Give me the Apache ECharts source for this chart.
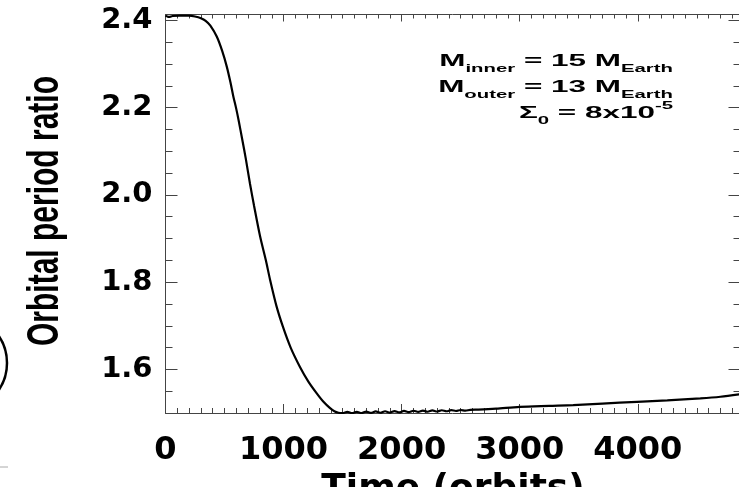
<!DOCTYPE html>
<html lang="en">
<head>
    <meta charset="UTF-8">
    <title>Orbital period ratio</title>
    <script src="https://cdn.jsdelivr.net/npm/echarts@6.0.0/dist/echarts.min.js"></script>
    <style>
        html, body { margin: 0; padding: 0; background: #fff; }
    </style>
</head>
<body>
<div id="main" style="width: 739px;height:487px;"></div>
<script type="text/javascript">
    // values (time in orbits, period ratio)
    var times = [0, 15, 30, 60, 120, 200, 250, 300, 340, 380, 434, 480, 519, 550, 575, 597, 620, 650, 680, 716,
        750, 801, 850, 886, 940, 998, 1060, 1140, 1210, 1281, 1340, 1394, 1430, 1465,
        1500, 1540, 1580, 1620, 1660, 1700, 1740, 1780, 1820, 1860, 1900, 1940, 1980, 2020,
        2060, 2100, 2140, 2180, 2220, 2260, 2300, 2340, 2380, 2420, 2460, 2500, 2540, 2580,
        2650, 2800, 3000, 3250, 3453, 3700, 3993, 4250, 4530, 4700, 4870];
    var ratios = [2.411, 2.409, 2.408, 2.410, 2.411, 2.411, 2.409, 2.405, 2.399, 2.388, 2.363, 2.33, 2.294, 2.258, 2.225, 2.2, 2.17, 2.127, 2.083, 2.025,
        1.975, 1.905, 1.85, 1.805, 1.745, 1.695, 1.65, 1.605, 1.572, 1.545, 1.525, 1.511, 1.504, 1.5005,
        1.4998, 1.5025, 1.4995, 1.5028, 1.4998, 1.5032, 1.5002, 1.5036, 1.5006, 1.504, 1.501, 1.5044, 1.5014, 1.5048,
        1.5019, 1.5052, 1.5024, 1.5056, 1.5029, 1.506, 1.5034, 1.5063, 1.504, 1.5066, 1.5046, 1.5069, 1.5053, 1.5072,
        1.5078, 1.510, 1.514, 1.5163, 1.518, 1.5215, 1.5257, 1.529, 1.5335, 1.5372, 1.543];
    var xTickLabels = [0, 1000, 2000, 3000, 4000];
    var yTickLabels = [1.6, 1.8, 2.0, 2.2, 2.4];

    var xMin = 0, xMax = 4870, yMin = 1.5, yMax = 2.4135;
    var axisColor = '#444';

    var myChart = echarts.init(document.getElementById('main'));

    function xAx(pos, len, interval, extra) {
        return Object.assign({
            type: 'value', gridIndex: 0, position: pos, min: xMin, max: xMax, interval: interval,
            axisLine: {show: false, onZero: false},
            axisTick: {show: true, inside: true, length: len, lineStyle: {color: axisColor}},
            axisLabel: {show: false},
            splitLine: {show: false}
        }, extra || {});
    }
    function yAx(pos, len, interval, extra) {
        return Object.assign({
            type: 'value', gridIndex: 0, position: pos, min: yMin, max: yMax, interval: interval,
            axisLine: {show: false, onZero: false},
            axisTick: {show: true, inside: true, length: len, lineStyle: {color: axisColor}},
            axisLabel: {show: false},
            splitLine: {show: false}
        }, extra || {});
    }
    var lineOn = {show: true, onZero: false, lineStyle: {color: axisColor, width: 1}};

    myChart.setOption({
        backgroundColor: '#fff',
        animation: false,
        grid: {left: 165.5, top: 14.5, width: 575, height: 398.5, outerBoundsMode: 'none'},
        xAxis: [
            xAx('bottom', 9, 1000, {
                axisLine: lineOn,
                axisTick: {show: true, inside: true, length: 9, customValues: xTickLabels, lineStyle: {color: axisColor}},
                axisLabel: {
                    show: true, customValues: xTickLabels, margin: 22,
                    formatter: function (v) { return String(v); },
                    fontFamily: 'DejaVu Sans', fontWeight: 'bold', fontSize: 32, color: '#000'
                },
                name: 'Time (orbits)', nameLocation: 'middle', nameGap: 50,
                nameTextStyle: {fontFamily: 'DejaVu Sans', fontWeight: 'bold', fontSize: 36, color: '#000'}
            }),
            xAx('bottom', 5, 100),
            xAx('top', 7, 1000, {axisLine: lineOn}),
            xAx('top', 4, 100)
        ],
        yAxis: [
            yAx('left', 12, 0.05, {
                axisLine: lineOn,
                axisTick: {show: true, inside: true, length: 12, customValues: yTickLabels, lineStyle: {color: axisColor}},
                axisLabel: {
                    show: true, customValues: yTickLabels, margin: 13,
                    formatter: function (v) { return v.toFixed(1); },
                    fontFamily: 'DejaVu Sans', fontWeight: 'bold', fontSize: 29, color: '#000'
                }
            }),
            yAx('left', 7, 0.05),
            yAx('right', 12, 0.05, {
                axisLine: lineOn,
                axisTick: {show: true, inside: true, length: 12, customValues: yTickLabels, lineStyle: {color: axisColor}}
            }),
            yAx('right', 7, 0.05)
        ],
        series: [{
            type: 'line',
            xAxisIndex: 0,
            yAxisIndex: 0,
            data: times.map(function (t, i) { return [t, ratios[i]]; }),
            showSymbol: false,
            smooth: 0.3,
            lineStyle: {color: '#000', width: 2.2}
        }],
        graphic: [{
            // y axis title, stretched across like the original
            type: 'text',
            x: 46,
            y: 211,
            rotation: Math.PI / 2,
            scaleY: 1.45,
            style: {
                text: 'Orbital period ratio',
                align: 'center',
                verticalAlign: 'middle',
                fontFamily: 'Liberation Sans',
                fontWeight: 'bold',
                fontSize: 30,
                fill: '#000'
            }
        }, {
            type: 'text',
            x: 673,
            y: 48,
            scaleX: 1.85,
            style: {
                text: '{m|M}{s|inner}{m| = 15 M}{s|Earth}\n{m|M}{s|outer}{m| = 13 M}{s|Earth}\n{m|Σ}{s|0}{m| = 8x10}{p|-5}',
                align: 'right',
                verticalAlign: 'top',
                fill: '#000',
                rich: {
                    m: {fontFamily: 'Liberation Sans', fontWeight: 'bold', fontSize: 17, lineHeight: 26, fill: '#000'},
                    s: {fontFamily: 'Liberation Sans', fontWeight: 'bold', fontSize: 11, verticalAlign: 'bottom', fill: '#000'},
                    p: {fontFamily: 'Liberation Sans', fontWeight: 'bold', fontSize: 11, verticalAlign: 'top', fill: '#000'}
                }
            }
        }, {
            type: 'circle',
            shape: {cx: -41, cy: 363, r: 48},
            style: {fill: 'none', stroke: '#000', lineWidth: 2.5}
        }, {
            type: 'line',
            shape: {x1: 0, y1: 467, x2: 8, y2: 467},
            style: {stroke: '#aaa', lineWidth: 1}
        }]
    });
</script>
</body>
</html>
